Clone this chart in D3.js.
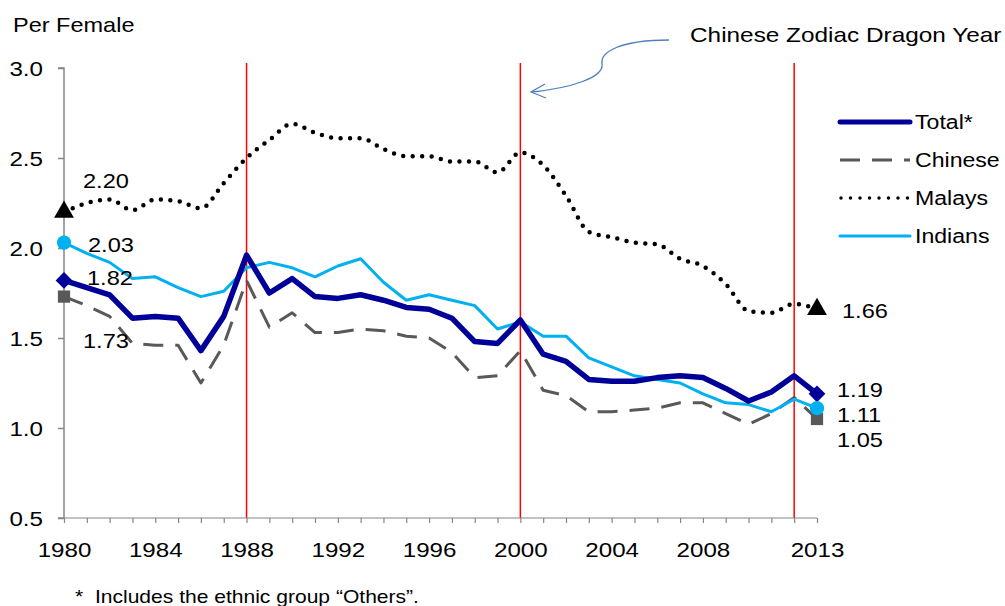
<!DOCTYPE html>
<html>
<head>
<meta charset="utf-8">
<script src="https://cdn.jsdelivr.net/npm/d3@7"></script>
<style>
  body { margin: 0; background: #fff; }
  svg text { font-family: "Liberation Sans", Arial, sans-serif; fill: #000; white-space: pre; }
</style>
</head>
<body>
<svg id="chart" width="1005" height="606"></svg>
<script>
const years = d3.range(1980, 2014)

const total = [1.82, 1.78, 1.74, 1.61, 1.62, 1.61, 1.43, 1.62, 1.96, 1.75, 1.83, 1.73, 1.72, 1.74, 1.71, 1.67, 1.66, 1.61, 1.48, 1.47, 1.60, 1.41, 1.37, 1.27, 1.26, 1.26, 1.28, 1.29, 1.28, 1.22, 1.15, 1.20, 1.29, 1.19]
const chinese = [1.73, 1.68, 1.62, 1.47, 1.46, 1.46, 1.25, 1.46, 1.82, 1.56, 1.64, 1.53, 1.53, 1.55, 1.54, 1.51, 1.50, 1.42, 1.28, 1.29, 1.43, 1.21, 1.18, 1.09, 1.09, 1.10, 1.11, 1.14, 1.14, 1.08, 1.02, 1.08, 1.17, 1.05]
const malays = [2.20, 2.25, 2.27, 2.21, 2.27, 2.26, 2.22, 2.36, 2.50, 2.60, 2.69, 2.64, 2.61, 2.61, 2.55, 2.51, 2.51, 2.48, 2.48, 2.42, 2.53, 2.46, 2.29, 2.09, 2.06, 2.03, 2.02, 1.94, 1.90, 1.80, 1.65, 1.64, 1.69, 1.66]
const indians = [2.03, 1.97, 1.92, 1.83, 1.84, 1.78, 1.73, 1.76, 1.89, 1.92, 1.89, 1.84, 1.90, 1.94, 1.81, 1.71, 1.74, 1.71, 1.68, 1.55, 1.59, 1.51, 1.51, 1.39, 1.34, 1.29, 1.27, 1.25, 1.19, 1.14, 1.13, 1.09, 1.16, 1.11]

const xTickYears = [1980, 1984, 1988, 1992, 1996, 2000, 2004, 2008, 2013]
const yTicks = [0.5, 1.0, 1.5, 2.0, 2.5, 3.0]
const dragonYears = [1988, 2000, 2012]

const svg = d3.select('#chart')
const SX = 1.15  // the source picture is a little stretched sideways

const x = d3.scaleLinear().domain([1980, 2013]).range([64, 817])
const y = d3.scaleLinear().domain([0.5, 3.0]).range([518, 68])

function addText(parent, str, px, py, size, sx) {
    return parent.append('text')
        .attr('transform', `translate(${px},${py}) scale(${sx || SX},1)`)
        .style('font-size', `${size}px`)
        .text(str)
}

// dragon year markers
svg.selectAll('.dragon')
    .data(dragonYears)
    .enter().append('line')
    .attr('x1', d => x(d)).attr('x2', d => x(d))
    .attr('y1', 63).attr('y2', 518)
    .attr('stroke', '#ff0000')
    .attr('stroke-width', 1.5)

// axes
const yAxis = d3.axisLeft(y).tickValues(yTicks).tickFormat(d3.format('.1f')).tickSize(6)
const yG = svg.append('g').attr('transform', 'translate(64,0)').call(yAxis)
yG.selectAll('path, line').attr('stroke', '#868686').attr('stroke-width', 1.5)
yG.select('path.domain').attr('d', 'M-6,68H0V518H-6')
yG.selectAll('text')
    .attr('x', 0).attr('dy', '0.36em')
    .attr('transform', `translate(-21,0) scale(${SX},1)`)
    .style('font-size', '21px').attr('fill', '#000')

const xAxis = d3.axisBottom(x).tickValues(years).tickSize(5).tickFormat(d => xTickYears.includes(d) ? d : '')
const xG = svg.append('g').attr('transform', 'translate(0,518)').call(xAxis)
xG.selectAll('path, line').attr('stroke', '#868686').attr('stroke-width', 1.2)
xG.select('path.domain').attr('d', 'M64,0H817')
xG.selectAll('text')
    .attr('y', 0).attr('dy', null)
    .attr('transform', `translate(0,39) scale(${SX},1)`)
    .style('font-size', '21px').attr('fill', '#000')

// series
const series = [
    { name: 'Chinese', values: chinese, color: '#595959', width: 3, dash: '20,12', cap: 'butt', curve: d3.curveLinear },
    { name: 'Malays', values: malays, color: '#000000', width: 4.5, dash: '0,9.5', cap: 'round', curve: d3.curveMonotoneX },
    { name: 'Indians', values: indians, color: '#00b0f0', width: 3, dash: null, cap: 'butt', curve: d3.curveLinear },
    { name: 'Total*', values: total, color: '#000099', width: 5.5, dash: null, cap: 'butt', curve: d3.curveLinear }
]

series.forEach(s => {
    const line = d3.line().x((d, i) => x(years[i])).y(d => y(d)).curve(s.curve)
    svg.append('path')
        .datum(s.values)
        .attr('d', line)
        .attr('fill', 'none')
        .attr('stroke', s.color)
        .attr('stroke-width', s.width)
        .attr('stroke-dasharray', s.dash)
        .attr('stroke-linecap', s.cap)
        .attr('stroke-linejoin', 'round')
})

// end markers
const ends = [0, years.length - 1]
const sym = {
    Malays: { gen: d3.symbol().type(d3.symbolTriangle).size(170), rot: 0 },
    Total: { gen: d3.symbol().type(d3.symbolSquare).size(140), rot: 45 },
    Chinese: { gen: d3.symbol().type(d3.symbolSquare).size(150), rot: 0 },
    Indians: { gen: d3.symbol().type(d3.symbolCircle).size(160), rot: 0 }
}
const markerSets = [
    { key: 'Chinese', values: chinese, color: '#595959' },
    { key: 'Malays', values: malays, color: '#000000' },
    { key: 'Total', values: total, color: '#000099' },
    { key: 'Indians', values: indians, color: '#00b0f0' }
]
markerSets.forEach(m => {
    ends.forEach(i => {
        svg.append('path')
            .attr('d', sym[m.key].gen())
            .attr('transform', `translate(${x(years[i])},${y(m.values[i])}) rotate(${sym[m.key].rot})`)
            .attr('fill', m.color)
    })
})

// value labels
const labels = [
    { text: '2.20', x: 83, y: 188 },
    { text: '2.03', x: 88, y: 252 },
    { text: '1.82', x: 87, y: 285 },
    { text: '1.73', x: 83, y: 348 },
    { text: '1.66', x: 842, y: 318 },
    { text: '1.19', x: 837, y: 397 },
    { text: '1.11', x: 837, y: 422 },
    { text: '1.05', x: 837, y: 447 }
]
labels.forEach(l => addText(svg, l.text, l.x, l.y, 20, 1.18))

// legend
const legend = [
    { name: 'Total*', color: '#000099', width: 5, dash: null, cap: 'round' },
    { name: 'Chinese', color: '#595959', width: 3, dash: '20,12', cap: 'butt' },
    { name: 'Malays', color: '#000000', width: 3.5, dash: '0,9.5', cap: 'round' },
    { name: 'Indians', color: '#00b0f0', width: 3, dash: null, cap: 'round' }
]
const lg = svg.append('g').attr('transform', 'translate(840,122)')
legend.forEach((l, i) => {
    const yy = i * 38
    lg.append('line')
        .attr('x1', l.dash === '0,9.5' ? 1 : 0).attr('x2', 70)
        .attr('y1', yy).attr('y2', yy)
        .attr('stroke', l.color)
        .attr('stroke-width', l.width)
        .attr('stroke-dasharray', l.dash)
        .attr('stroke-linecap', l.cap)
    addText(lg, l.name, 75, yy + 7, 21, 1.1)
})

// titles and notes
addText(svg, 'Per Female', 13, 32, 21, 1.12)
addText(svg, 'Chinese Zodiac Dragon Year', 690, 42, 21, 1.16)
addText(svg, '*  Includes the ethnic group “Others”.', 75, 603, 18, 1.17)

// annotation arrow
svg.append('path')
    .attr('d', 'M 669 40 C 620 40, 600 52, 602 64 C 604 78, 570 88, 532 92')
    .attr('fill', 'none')
    .attr('stroke', '#4f81bd')
    .attr('stroke-width', 1.3)
svg.append('path')
    .attr('d', 'M 545 84 L 531 92 L 546 98')
    .attr('fill', 'none')
    .attr('stroke', '#4f81bd')
    .attr('stroke-width', 1.3)
</script>
</body>
</html>
